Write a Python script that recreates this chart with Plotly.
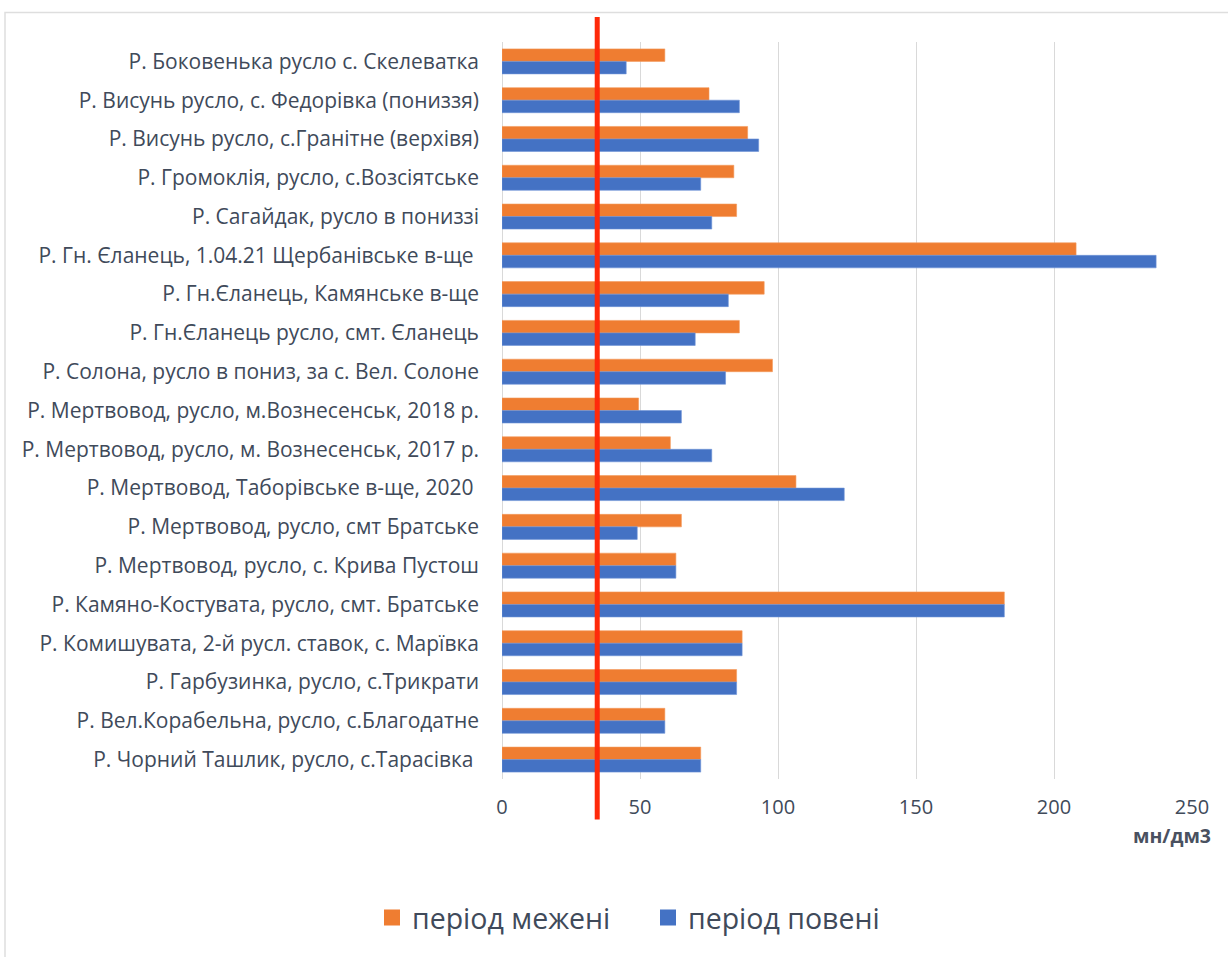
import plotly.graph_objects as go

# Sampling sites (top to bottom)
sites = [
    "Р. Боковенька русло с. Скелеватка",
    "Р. Висунь русло, с. Федорівка (пониззя)",
    "Р. Висунь русло, с.Гранітне (верхівя)",
    "Р. Громоклія, русло, с.Возсіятське",
    "Р. Сагайдак, русло в пониззі",
    "Р. Гн. Єланець, 1.04.21 Щербанівське в-ще ",
    "Р. Гн.Єланець, Камянське в-ще",
    "Р. Гн.Єланець русло, смт. Єланець",
    "Р. Солона, русло в пониз, за с. Вел. Солоне",
    "Р. Мертвовод, русло, м.Вознесенськ, 2018 р.",
    "Р. Мертвовод, русло, м. Вознесенськ, 2017 р.",
    "Р. Мертвовод, Таборівське в-ще, 2020 ",
    "Р. Мертвовод, русло, смт Братське",
    "Р. Мертвовод, русло, с. Крива Пустош",
    "Р. Камяно-Костувата, русло, смт. Братське",
    "Р. Комишувата, 2-й русл. ставок, с. Марївка",
    "Р. Гарбузинка, русло, с.Трикрати",
    "Р. Вел.Корабельна, русло, с.Благодатне",
    "Р. Чорний Ташлик, русло, с.Тарасівка ",
]

low_water = [59, 75, 89, 84, 85, 208, 95, 86, 98, 49.5, 61, 106.5, 65, 63, 182, 87, 85, 59, 72]
flood = [45, 86, 93, 72, 76, 237, 82, 70, 81, 65, 76, 124, 49, 63, 182, 87, 85, 59, 72]

series_names = ["період межені", "період повені"]
series_colors = ["#ef7d31", "#4472c4"]
series_edges = ["#f49a5c", "#6f93d6"]

x_ticks = [0, 50, 100, 150, 200, 250]
limit_value = 34.5

W, H = 1228, 957
L, R, T, B = 502, 1192, 42, 779.5
PW, PH = R - L, B - T


def px_x(px):
    return (px - L) / PW


def px_y(py):
    return (B - py) / PH


TEXT = "#404a5a"
GRID = "#d9d9d9"
FONT = "Open Sans"

fig = go.Figure()
for vals, name, col, edge in zip([low_water, flood], series_names, series_colors, series_edges):
    fig.add_trace(go.Bar(
        y=sites, x=vals, orientation="h", name=name, showlegend=False,
        marker=dict(color=col, line=dict(color=edge, width=0.6)),
    ))

# Legend entries with larger square swatches
for name, col in zip(series_names, series_colors):
    fig.add_trace(go.Scatter(
        x=[None], y=[None], mode="markers", name=name,
        marker=dict(symbol="square", size=16, color=col),
    ))

# Limit line
fig.add_shape(type="line", xref="x", yref="paper",
              x0=limit_value, x1=limit_value, y0=px_y(820), y1=px_y(17),
              line=dict(color="#ff2a0a", width=5), layer="above")

# Chart frame
fig.add_shape(type="rect", xref="paper", yref="paper",
              x0=px_x(5), x1=px_x(1240), y0=px_y(970), y1=px_y(12.5),
              line=dict(color="#dedede", width=1.5), layer="below")

fig.add_annotation(text="<b>мн/дм3</b>", xref="paper", yref="paper",
                   x=px_x(1213), y=px_y(836), xanchor="right", yanchor="middle",
                   showarrow=False, font=dict(family=FONT, size=19.5, color="#4a5160"))

fig.update_layout(
    width=W, height=H,
    margin=dict(l=L, r=W - R, t=T, b=H - B),
    paper_bgcolor="white", plot_bgcolor="white",
    barmode="group", bargap=0.355, bargroupgap=0,
    font=dict(family=FONT, color=TEXT),
    showlegend=True,
    legend=dict(orientation="h", xref="container", yref="container",
                x=372 / W, y=1 - 918 / H, xanchor="left", yanchor="middle",
                font=dict(family=FONT, size=28.5, color=TEXT),
                itemwidth=30, entrywidth=231, entrywidthmode="pixels",
                traceorder="normal", tracegroupgap=0),
    xaxis=dict(range=[0, 250], tickvals=x_ticks, showgrid=True, gridcolor=GRID,
               gridwidth=1, zeroline=True, zerolinecolor=GRID, zerolinewidth=1,
               showline=False, ticks="", ticklabelstandoff=14,
               tickfont=dict(family=FONT, size=20, color=TEXT)),
    yaxis=dict(autorange="reversed", showgrid=False, showline=False, ticks="",
               ticklabelstandoff=22,
               tickfont=dict(family=FONT, size=21, color=TEXT)),
)

fig.write_html("out.html")
